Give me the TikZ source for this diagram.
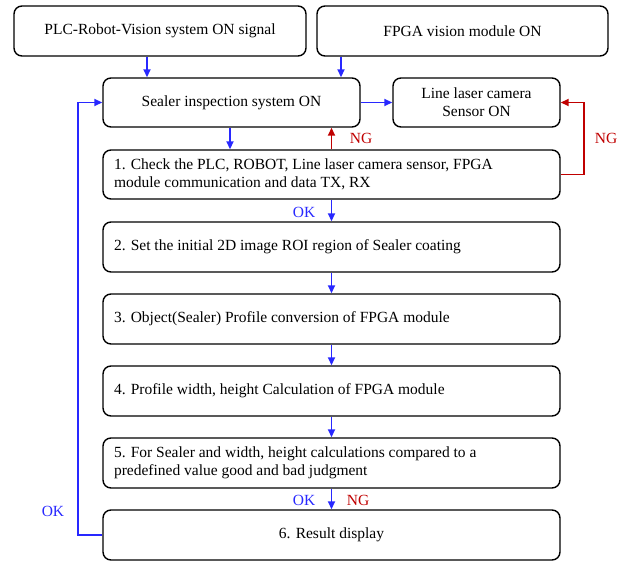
\documentclass[tikz,border=0pt]{standalone}
\usepackage{fontspec}
\setmainfont{Liberation Serif}
\usetikzlibrary{arrows.meta}
\definecolor{okblue}{RGB}{40,40,255}
\definecolor{ngred}{RGB}{192,0,0}
\begin{document}
\begin{tikzpicture}[x=1pt,y=-1pt,
  font=\fontsize{15.5}{18}\selectfont,
  box/.style={draw=black,line width=1.4pt,rounded corners=8pt,inner sep=0pt,align=center},
  lbox/.style={box,align=flush left,inner xsep=11pt,text width=#1,anchor=center},
  bar/.style={okblue,line width=1.7pt,-{Triangle[length=8pt,width=7pt]}},
  rar/.style={ngred,line width=1.7pt,-{Triangle[length=8pt,width=7pt]}},
  oklab/.style={text=okblue,inner sep=0pt},
  nglab/.style={text=ngred,inner sep=0pt}]
\useasboundingbox (0,0) rectangle (629,561);
\node[box,minimum width=292pt,minimum height=50pt] (A) at (160,31) {PLC-Robot-Vision system ON signal};
\node[box,minimum width=291pt,minimum height=50pt] (B) at (462.5,31) {FPGA vision module ON};
\node[box,minimum width=257pt,minimum height=49pt] (S) at (231.5,102.5) {Sealer inspection system ON};
\node[box,minimum width=167pt,minimum height=49pt] (L) at (476.5,102.5) {Line laser camera\\Sensor ON};
\node[lbox=435pt,minimum height=49pt] (b1) at (331.5,174.5) {1. Check the PLC, ROBOT, Line laser camera sensor, FPGA\\module communication and data TX, RX};
\node[lbox=435pt,minimum height=50pt] (b2) at (331.5,247) {2. Set the initial 2D image ROI region of Sealer coating};
\node[lbox=435pt,minimum height=50pt] (b3) at (331.5,319) {3. Object(Sealer) Profile conversion of FPGA module};
\node[lbox=435pt,minimum height=50pt] (b4) at (331.5,391) {4. Profile width, height Calculation of FPGA module};
\node[lbox=435pt,minimum height=50pt] (b5) at (331.5,463) {5. For Sealer and width, height calculations compared to a\\predefined value good and bad judgment};
\node[box,minimum width=457pt,minimum height=50pt] (b6) at (331.5,535) {6. Result display};
\coordinate (r) at (584,102.5);
\coordinate (lp) at (78,102.5);
% arrows
\draw[bar] ([xshift=-13pt]A.south) -- ([xshift=-13pt]A.south |- S.north);
\draw[bar] ([xshift=-121.5pt]B.south) -- ([xshift=-121.5pt]B.south |- S.north);
\draw[bar] (S.east) -- (L.west);
\draw[bar] ([xshift=-1.5pt]S.south) -- ([xshift=-1.5pt]S.south |- b1.north);
\draw[rar] (b1.north) -- (b1.north |- S.south);
\draw[rar] (b1.east) -| (r) -- (L.east);
\draw[bar] (b1.south) -- (b2.north);
\draw[bar] (b2.south) -- (b3.north);
\draw[bar] (b3.south) -- (b4.north);
\draw[bar] (b4.south) -- (b5.north);
\draw[bar] (b5.south) -- (b6.north);
\draw[bar] (b6.west) -| (lp) -- (S.west);
% labels
\node[nglab] (ng1) at (361,138) {NG};
\node[nglab] (ng2) at (606,138) {NG};
\node[oklab] (ok1) at (304,212) {OK};
\node[oklab] (ok2) at (304,500) {OK};
\node[nglab] (ng3) at (358,500) {NG};
\node[oklab] (ok3) at (53,511) {OK};
\end{tikzpicture}
\end{document}
